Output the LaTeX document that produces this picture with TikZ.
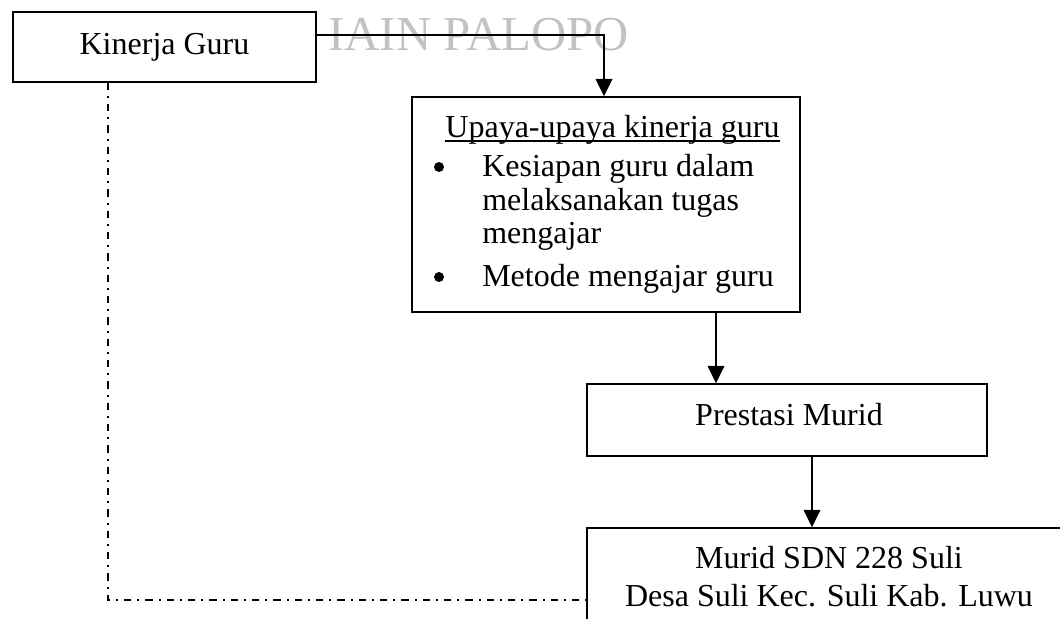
\documentclass[tikz,border=0pt]{standalone}
\usepackage{fontspec}
\setmainfont{Liberation Serif}
\usetikzlibrary{arrows.meta}
\begin{document}
\begin{tikzpicture}[x=0.75pt,y=-0.75pt,
  box/.style={draw, line width=1.1pt, inner sep=0pt},
  txt/.style={inner sep=0pt, font=\fontsize{24pt}{28pt}\selectfont},
  arr/.style={line width=1.1pt, -{Triangle[width=12.5pt,length=13pt]}},
  dd/.style={line width=1.1pt, dash pattern=on 5.5pt off 4.5pt on 1.5pt off 4.5pt},
  bulletdot/.style={circle, fill, inner sep=0pt, minimum size=7.5pt}]
\useasboundingbox (0,0) rectangle (1060,618);
\clip (0,0) rectangle (1060,618);
% watermark
\node[anchor=base west, inner sep=0pt, text=black!24, font=\fontsize{36.6pt}{40pt}\selectfont] (wm) at (328,50) {IAIN PALOPO};
% boxes
\node[box, minimum width=227.25pt, minimum height=52.5pt] (kinerja) at (164.5,47) {};
\node[txt, anchor=base] (kinerjatxt) at (164.5,54) {Kinerja Guru};
\node[box, minimum width=291pt, minimum height=161.25pt] (upaya) at (606,204.5) {};
\node[txt, anchor=base] (title) at (612.5,137) {Upaya-upaya kinerja guru};
\draw[line width=1.1pt] ([yshift=-3pt]title.base west) -- ([yshift=-3pt]title.base east);
\node[bulletdot] (b1) at (439,167) {};
\node[txt, anchor=base west] (i1a) at (482,176) {Kesiapan guru dalam};
\node[txt, anchor=base west] (i1b) at (482,210) {melaksanakan tugas};
\node[txt, anchor=base west] (i1c) at (482,243) {mengajar};
\node[bulletdot] (b2) at (439,277) {};
\node[txt, anchor=base west] (i2) at (482,286) {Metode mengajar guru};
\node[box, minimum width=300pt, minimum height=54pt] (prestasi) at (787,420) {};
\node[txt, anchor=base] (prestasitxt) at (789,425) {Prestasi Murid};
\node[box, minimum width=366pt, minimum height=114pt] (murid) at (831,604) {};
\node[txt, anchor=base] (murid1) at (829,568) {Murid SDN 228 Suli};
\node[txt, anchor=base] (murid2) at (829,606) {Desa Suli Kec. Suli Kab. Luwu};
% connectors
\draw[arr] ([yshift=9pt]kinerja.east) -| ([xshift=-1.5pt]upaya.north);
\draw[arr] ([xshift=-53.25pt]prestasi.north |- upaya.south) -- ([xshift=-53.25pt]prestasi.north);
\draw[arr] ([xshift=18.75pt]prestasi.south) -- ([xshift=18.75pt]prestasi.south |- murid.north);
\coordinate (ddcorner) at (108,600);
\draw[dd] (kinerja.south -| ddcorner) -- (ddcorner) -- (ddcorner -| murid.west);
\end{tikzpicture}
\end{document}
